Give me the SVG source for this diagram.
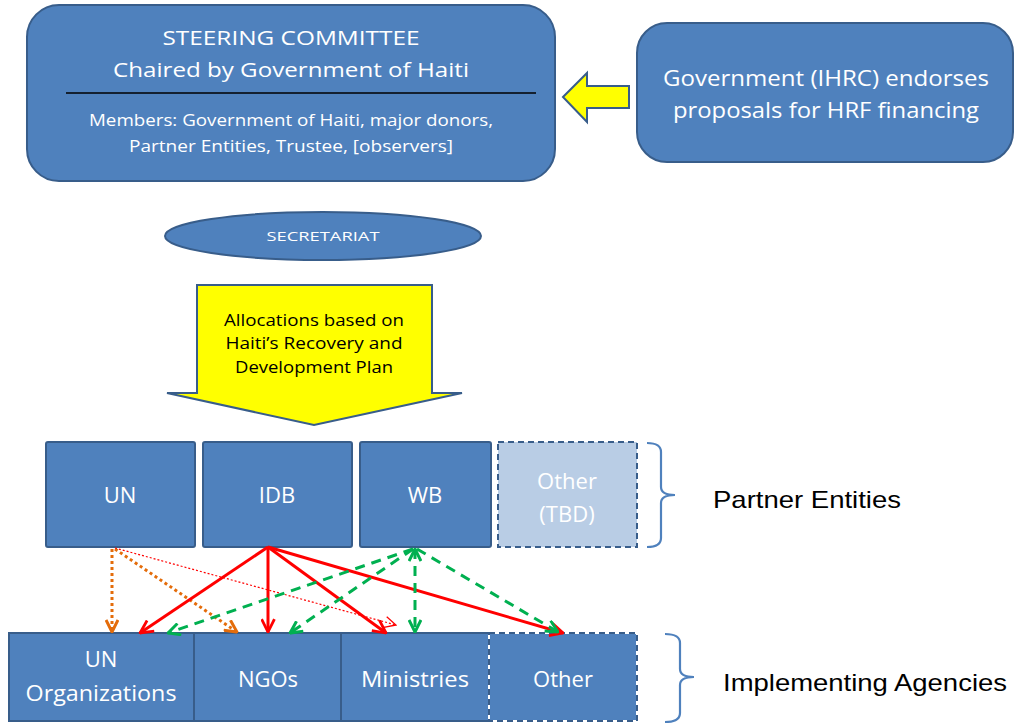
<svg xmlns="http://www.w3.org/2000/svg" width="1015" height="723" viewBox="0 0 1015 723">
<style>
.box{fill:#4f81bd;stroke:#385d8a;stroke-width:2}
.dash{stroke-dasharray:6,4}
.wt{fill:#ffffff;font-family:"Open Sans","Liberation Sans",sans-serif;text-anchor:middle}
.bt{fill:#000000;font-family:"Open Sans","Liberation Sans",sans-serif;text-anchor:middle}
.lab{fill:#000000;font-family:"Liberation Sans",Arial,sans-serif;font-size:24px}
.yel{fill:#ffff00;stroke:#385d8a;stroke-width:2;stroke-linejoin:miter}
.brace{fill:none;stroke:#4f81bd;stroke-width:2.2}
.red{fill:none;stroke:#ff0000;stroke-width:3}
.redthin{fill:none;stroke:#ff0000;stroke-width:1.2;stroke-dasharray:2,2}
.org{fill:none;stroke:#e46c0a;stroke-width:3;stroke-dasharray:3,3}
.grn{fill:none;stroke:#00b050;stroke-width:3;stroke-dasharray:10,7}
</style>
<defs>
<marker id="mr" viewBox="0 0 14 14" refX="13" refY="7" markerWidth="15" markerHeight="15" markerUnits="userSpaceOnUse" orient="auto-start-reverse"><path d="M1,1 L13,7 L1,13" fill="none" stroke="#ff0000" stroke-width="2.6"/></marker>
<marker id="mrt" viewBox="0 0 14 14" refX="13" refY="7" markerWidth="13" markerHeight="13" markerUnits="userSpaceOnUse" orient="auto-start-reverse"><path d="M1,1 L13,7 L1,13" fill="none" stroke="#ff0000" stroke-width="1.4"/></marker>
<marker id="mo" viewBox="0 0 14 14" refX="13" refY="7" markerWidth="14" markerHeight="14" markerUnits="userSpaceOnUse" orient="auto-start-reverse"><path d="M1,1 L13,7 L1,13" fill="none" stroke="#e46c0a" stroke-width="3"/></marker>
<marker id="mg" viewBox="0 0 14 14" refX="13" refY="7" markerWidth="14" markerHeight="14" markerUnits="userSpaceOnUse" orient="auto-start-reverse"><path d="M1,1 L13,7 L1,13" fill="none" stroke="#00b050" stroke-width="3"/></marker>
</defs>

<g id="steering">
<rect class="box" x="27" y="5" width="528" height="176" rx="32"/>
<text class="wt" x="291" y="45" font-size="20" textLength="257" lengthAdjust="spacingAndGlyphs">STEERING COMMITTEE</text>
<text class="wt" x="291" y="77" font-size="20" textLength="356" lengthAdjust="spacingAndGlyphs">Chaired by Government of Haiti</text>
<line x1="66" y1="93" x2="536" y2="93" stroke="#000000" stroke-width="1.5"/>
<text class="wt" x="291" y="126" font-size="15.5" textLength="404" lengthAdjust="spacingAndGlyphs">Members: Government of Haiti, major donors,</text>
<text class="wt" x="291" y="152" font-size="15.5" textLength="324" lengthAdjust="spacingAndGlyphs">Partner Entities, Trustee,  [observers]</text>
</g>

<g id="endorse-arrow">
<polygon class="yel" points="563,97 587,73 587,86 629,86 629,108 587,108 587,122"/>
</g>

<g id="government">
<rect class="box" x="637" y="23" width="376" height="139" rx="30"/>
<text class="wt" x="826" y="86" font-size="21.5" textLength="326" lengthAdjust="spacingAndGlyphs">Government (IHRC) endorses</text>
<text class="wt" x="826" y="118" font-size="21.5" textLength="306" lengthAdjust="spacingAndGlyphs">proposals for HRF financing</text>
</g>

<g id="secretariat">
<ellipse class="box" cx="323" cy="236" rx="158" ry="24"/>
<text class="wt" x="323" y="241" font-size="13" textLength="113" lengthAdjust="spacingAndGlyphs">SECRETARIAT</text>
</g>

<g id="allocations">
<polygon class="yel" points="197,285 432,285 432,393 462,393 314,425 167,393 197,393"/>
<text class="bt" x="314" y="326" font-size="15.5" textLength="180" lengthAdjust="spacingAndGlyphs">Allocations based on</text>
<text class="bt" x="314" y="349" font-size="15.5" textLength="177" lengthAdjust="spacingAndGlyphs">Haiti’s Recovery and</text>
<text class="bt" x="314" y="373" font-size="15.5" textLength="158" lengthAdjust="spacingAndGlyphs">Development Plan</text>
</g>

<g id="pe-un">
<rect class="box" x="46" y="442" width="149" height="105" rx="2"/>
<text class="wt" x="120" y="503" font-size="22">UN</text>
</g>
<g id="pe-idb">
<rect class="box" x="203" y="442" width="149" height="105" rx="2"/>
<text class="wt" x="277" y="503" font-size="22">IDB</text>
</g>
<g id="pe-wb">
<rect class="box" x="360" y="442" width="131" height="105" rx="2"/>
<text class="wt" x="425" y="503" font-size="22">WB</text>
</g>
<g id="pe-other">
<rect x="498" y="442" width="139" height="105" fill="#b9cde5" stroke="#385d8a" stroke-width="2" class="dash"/>
<text class="wt" x="567" y="489" font-size="22">Other</text>
<text class="wt" x="567" y="522" font-size="22">(TBD)</text>
</g>

<g id="ia-un">
<rect class="box" x="9" y="633" width="185" height="88"/>
<text class="wt" x="101" y="667" font-size="22">UN</text>
<text class="wt" x="101" y="701" font-size="22" textLength="151" lengthAdjust="spacingAndGlyphs">Organizations</text>
</g>
<g id="ia-ngo">
<rect class="box" x="194" y="633" width="147" height="88"/>
<text class="wt" x="268" y="687" font-size="22">NGOs</text>
</g>
<g id="ia-min">
<rect class="box" x="341" y="633" width="148" height="88"/>
<text class="wt" x="415" y="687" font-size="22" textLength="108" lengthAdjust="spacingAndGlyphs">Ministries</text>
</g>
<g id="ia-other">
<rect x="489" y="633" width="148" height="88" fill="#4f81bd" stroke="#ffffff" stroke-width="2"/>
<rect x="489" y="633" width="148" height="88" fill="none" stroke="#385d8a" stroke-width="2" class="dash"/>
<text class="wt" x="563" y="687" font-size="22">Other</text>
</g>

<g id="brace-partner">
<path class="brace" d="M647,443 Q661,443 661,452 L661,487 Q661,495 675,495 Q661,495 661,503 L661,538 Q661,547 647,547"/>
<text class="lab" x="713" y="508" textLength="188" lengthAdjust="spacingAndGlyphs">Partner Entities</text>
</g>
<g id="brace-impl">
<path class="brace" d="M665,634 Q680,634 680,643 L680,669 Q680,677 694,677 Q680,677 680,685 L680,713 Q680,722 665,722"/>
<text class="lab" x="723" y="691" textLength="284" lengthAdjust="spacingAndGlyphs">Implementing Agencies</text>
</g>

<g id="connectors">
<line class="org" x1="112" y1="549" x2="112" y2="632" marker-end="url(#mo)"/>
<line class="org" x1="115" y1="549" x2="237" y2="632" marker-end="url(#mo)"/>
<line class="redthin" x1="115" y1="548" x2="396" y2="625" marker-end="url(#mrt)"/>
<line class="red" x1="268" y1="547" x2="140" y2="633" marker-end="url(#mr)"/>
<line class="red" x1="268" y1="547" x2="268" y2="632" marker-end="url(#mr)"/>
<line class="red" x1="268" y1="547" x2="386" y2="633" marker-end="url(#mr)"/>
<line class="red" x1="268" y1="547" x2="563" y2="633" marker-end="url(#mr)"/>
<line class="grn" x1="413" y1="549" x2="168" y2="633" marker-end="url(#mg)"/>
<line class="grn" x1="413" y1="549" x2="290" y2="633" marker-end="url(#mg)"/>
<line class="grn" x1="415" y1="549" x2="415" y2="632" marker-start="url(#mg)" marker-end="url(#mg)"/>
<line class="grn" x1="417" y1="549" x2="558" y2="632" marker-end="url(#mg)"/>
</g>
</svg>
